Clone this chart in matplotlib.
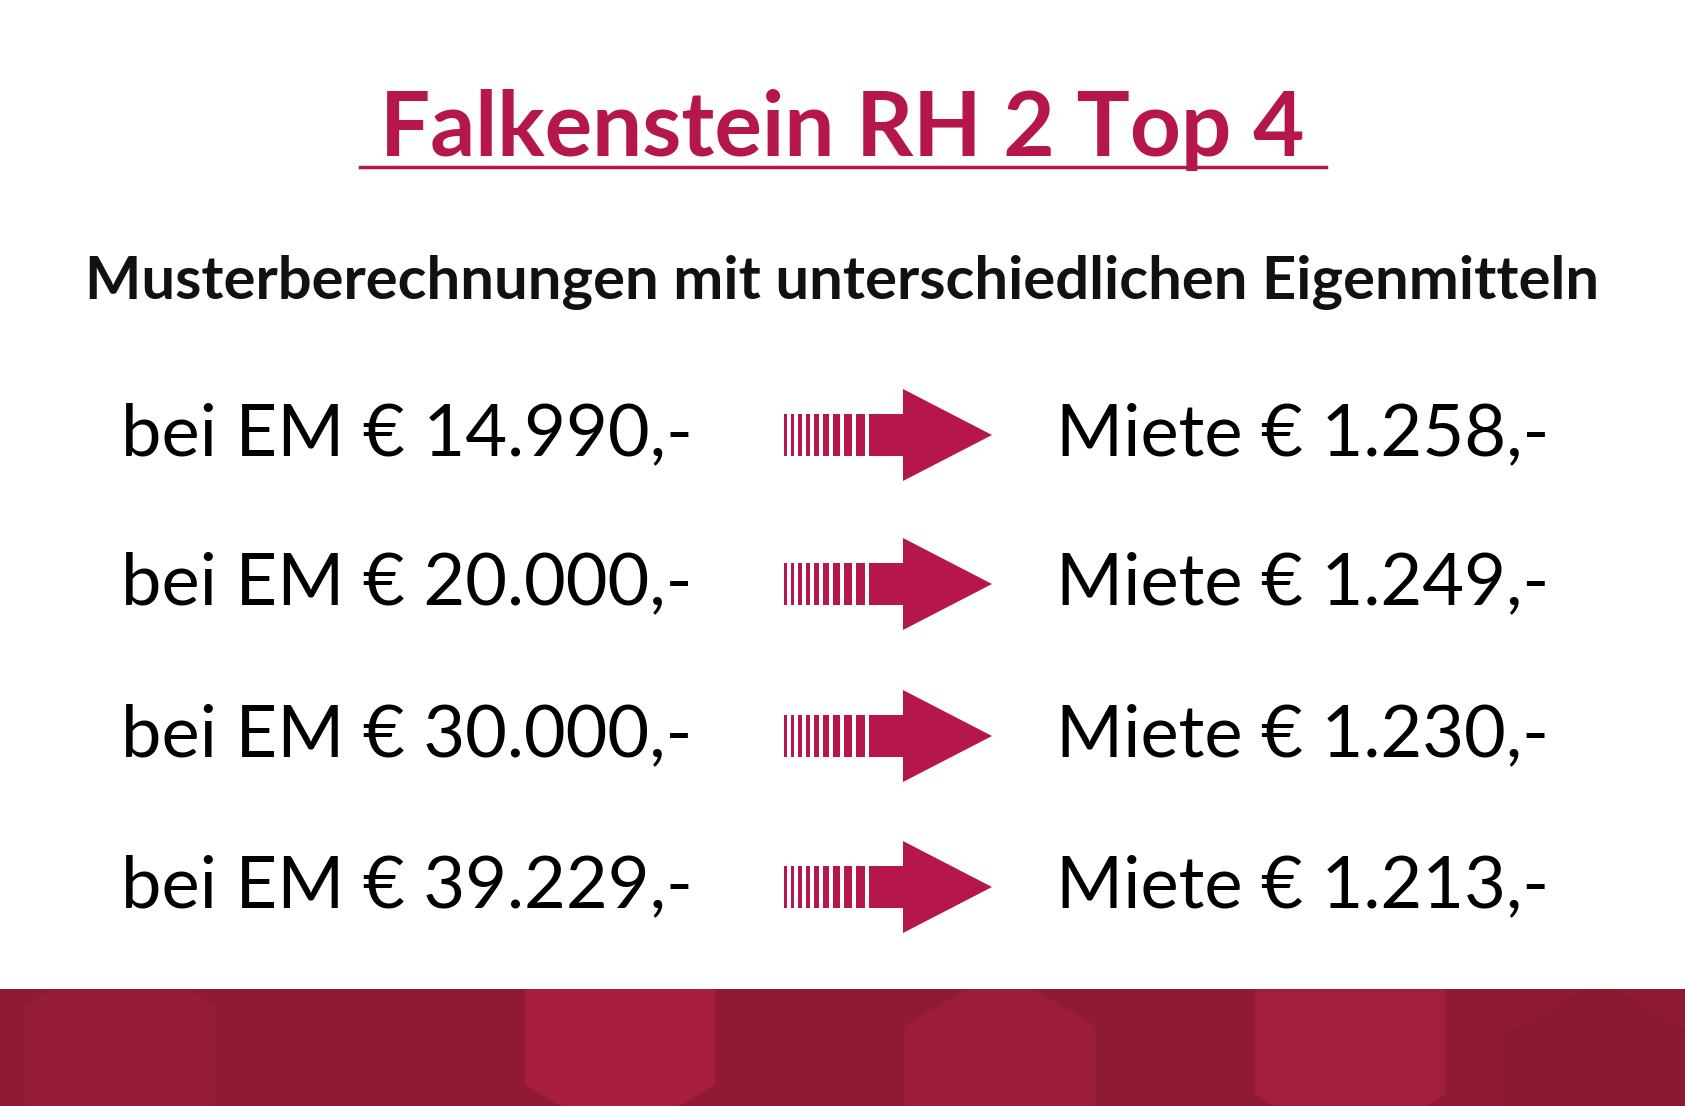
import matplotlib
matplotlib.use("Agg")
import matplotlib.pyplot as plt
from matplotlib.patches import Rectangle, Polygon
import numpy as np

title = "Falkenstein RH 2 Top 4"
subtitle = "Musterberechnungen mit unterschiedlichen Eigenmitteln"
em_labels = ["bei EM € 14.990,-", "bei EM € 20.000,-", "bei EM € 30.000,-", "bei EM € 39.229,-"]
miete_labels = ["Miete € 1.258,-", "Miete € 1.249,-", "Miete € 1.230,-", "Miete € 1.213,-"]

W, H = 1685, 1106
fig = plt.figure(figsize=(W/100, H/100), dpi=100)
ax = fig.add_axes([0, 0, 1, 1])
ax.set_xlim(0, W); ax.set_ylim(H, 0); ax.axis("off")
red = "#b5174b"

ax.text(842, 130, title, ha="center", va="center", fontsize=64, fontweight="bold",
        family="Lato", color=red)
ax.plot([360, 1326], [167, 167], color=red, lw=2.5)
ax.text(842, 282, subtitle, ha="center", va="center", fontsize=43, fontweight="bold",
        family="Lato", color="#111111")

rows_y = [435, 584, 736, 887]
for y, l, r in zip(rows_y, em_labels, miete_labels):
    ax.text(121, y, l, ha="left", va="center", fontsize=52, fontweight="normal", family="Lato")
    ax.text(1056, y, r, ha="left", va="center", fontsize=52, fontweight="normal", family="Lato")
    x = 784
    widths = [3, 3, 4, 4, 5, 6, 7, 8, 9]
    for w in widths:
        ax.add_patch(Rectangle((x, y - 21), w, 42, color=red, lw=0))
        x += w + 4
    ax.add_patch(Rectangle((x, y - 21), 903 - x, 42, color=red, lw=0))
    ax.add_patch(Polygon([[903, y - 46], [992, y], [903, y + 46]], color=red, lw=0))

band = Rectangle((0, 989), W, H - 989, color="#8e1a33", lw=0)
ax.add_patch(band)
hexes = [(120, 1060, "#971c38"), (620, 1030, "#a81f3e"), (1000, 1080, "#9c1d3a"),
         (1350, 1040, "#a31e3d"), (1600, 1090, "#8a1930")]
for cx, cy, c in hexes:
    ang = np.linspace(0, 2*np.pi, 7)[:-1] + np.pi/6
    p = Polygon(np.c_[cx + 110*np.cos(ang), cy + 110*np.sin(ang)], color=c, lw=0)
    ax.add_patch(p)
    p.set_clip_path(band)
fig.savefig("out.png", dpi=100, facecolor="white")
